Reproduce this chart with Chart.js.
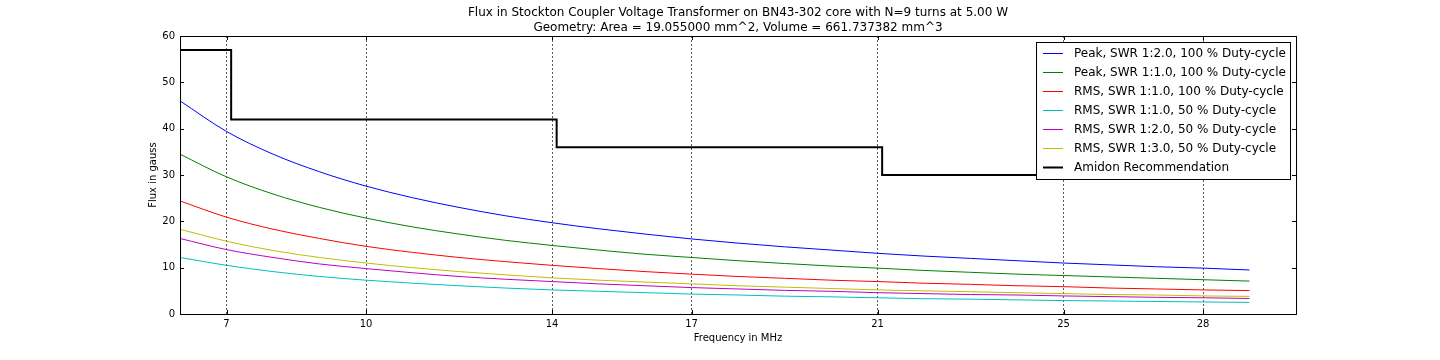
<!DOCTYPE html>
<html>
<head>
<meta charset="utf-8">
<script src="https://cdn.jsdelivr.net/npm/chart.js@4/dist/chart.umd.min.js"></script>
<style>
  html, body { margin: 0; padding: 0; background: #fff; }
  #wrap { width: 1440px; height: 360px; }
</style>
</head>
<body>
<div id="wrap"><canvas id="c" width="1440" height="360"></canvas></div>
<script>
// ---- data ----
const freqMHz      = [6, 7, 8, 9, 10, 11, 12, 13, 14, 15, 16, 17, 18, 19, 20, 21, 22, 23, 24, 25, 26, 27, 28, 29];
const peakSwr2Full = [46.0, 39.4, 34.5, 30.7, 27.6, 25.1, 23.0, 21.2, 19.7, 18.4, 17.25, 16.2, 15.3, 14.5, 13.8, 13.1, 12.5, 12.0, 11.5, 11.0, 10.6, 10.2, 9.9, 9.5];
const peakSwr1Full = [34.5, 29.6, 25.9, 23.0, 20.7, 18.8, 17.25, 15.9, 14.8, 13.8, 12.9, 12.2, 11.5, 10.9, 10.35, 9.9, 9.4, 9.0, 8.6, 8.3, 8.0, 7.7, 7.4, 7.1];
const rmsSwr1Full  = [24.4, 20.9, 18.3, 16.3, 14.6, 13.3, 12.2, 11.3, 10.5, 9.8, 9.15, 8.6, 8.1, 7.7, 7.3, 7.0, 6.65, 6.4, 6.1, 5.9, 5.6, 5.4, 5.2, 5.05];
const rmsSwr1Half  = [12.2, 10.5, 9.15, 8.1, 7.3, 6.65, 6.1, 5.6, 5.2, 4.9, 4.6, 4.3, 4.1, 3.85, 3.7, 3.5, 3.3, 3.2, 3.05, 2.9, 2.8, 2.7, 2.6, 2.5];
const rmsSwr2Half  = [16.3, 13.9, 12.2, 10.8, 9.8, 8.9, 8.1, 7.5, 7.0, 6.5, 6.1, 5.7, 5.4, 5.1, 4.9, 4.6, 4.4, 4.2, 4.1, 3.9, 3.75, 3.6, 3.5, 3.35];
const rmsSwr3Half  = [18.3, 15.7, 13.7, 12.2, 11.0, 10.0, 9.15, 8.45, 7.8, 7.3, 6.9, 6.5, 6.1, 5.8, 5.5, 5.2, 5.0, 4.8, 4.6, 4.4, 4.2, 4.1, 3.9, 3.8];
const amidonFreq   = [6, 7.1, 14.1, 21.1, 29.7];
const amidonFlux   = [57, 42, 36, 30, 30];

const seriesLabels = [
  'Peak, SWR 1:2.0, 100 % Duty-cycle',
  'Peak, SWR 1:1.0, 100 % Duty-cycle',
  'RMS, SWR 1:1.0, 100 % Duty-cycle',
  'RMS, SWR 1:1.0, 50 % Duty-cycle',
  'RMS, SWR 1:2.0, 50 % Duty-cycle',
  'RMS, SWR 1:3.0, 50 % Duty-cycle',
  'Amidon Recommendation'
];
const xTickValues = [7, 10, 14, 17, 21, 25, 28];
const yTickValues = [0, 10, 20, 30, 40, 50, 60];
const titleLines = [
  'Flux in Stockton Coupler Voltage Transformer on BN43-302 core with N=9 turns at 5.00 W',
  'Geometry: Area = 19.055000 mm^2, Volume = 661.737382 mm^3'
];

const FONT = 'DejaVu Sans';
const pts = (xs, ys) => xs.map((x, i) => ({ x: x, y: ys[i] }));

const curve = (label, ys, color) => ({
  label: label,
  data: pts(freqMHz, ys),
  borderColor: color,
  backgroundColor: color,
  borderWidth: 1,
  pointRadius: 0,
  fill: false,
  cubicInterpolationMode: 'monotone'
});

const datasets = [
  curve(seriesLabels[0], peakSwr2Full, '#0000ff'),
  curve(seriesLabels[1], peakSwr1Full, '#008000'),
  curve(seriesLabels[2], rmsSwr1Full, '#ff0000'),
  curve(seriesLabels[3], rmsSwr1Half, '#00bfbf'),
  curve(seriesLabels[4], rmsSwr2Half, '#bf00bf'),
  curve(seriesLabels[5], rmsSwr3Half, '#bfbf00'),
  {
    label: seriesLabels[6],
    data: pts(amidonFreq, amidonFlux),
    borderColor: '#000000',
    backgroundColor: '#000000',
    borderWidth: 2,
    pointRadius: 0,
    fill: false,
    stepped: 'before'
  }
];

// frame, inward ticks and boxed legend inside the plot
const framePlugin = {
  id: 'frame',
  afterDraw(chart) {
    const ctx = chart.ctx;
    const a = chart.chartArea;
    const xs = chart.scales.x, ys = chart.scales.y;
    ctx.save();
    ctx.strokeStyle = '#000';
    ctx.lineWidth = 1;
    // inward ticks
    ctx.beginPath();
    xTickValues.forEach(v => {
      const px = Math.round(xs.getPixelForValue(v)) + 0.5;
      ctx.moveTo(px, a.bottom); ctx.lineTo(px, a.bottom - 4);
      ctx.moveTo(px, a.top); ctx.lineTo(px, a.top + 4);
    });
    yTickValues.forEach(v => {
      const py = Math.round(ys.getPixelForValue(v)) + 0.5;
      ctx.moveTo(a.left, py); ctx.lineTo(a.left + 4, py);
      ctx.moveTo(a.right, py); ctx.lineTo(a.right - 4, py);
    });
    ctx.stroke();
    // frame
    ctx.strokeRect(Math.round(a.left) + 0.5, Math.round(a.top) + 0.5,
                   Math.round(a.right - a.left), Math.round(a.bottom - a.top));

    // legend
    const lx = 1036.5, ly = 42.5, lw = 254, lh = 137;
    ctx.fillStyle = '#fff';
    ctx.fillRect(lx, ly, lw, lh);
    ctx.strokeStyle = '#000';
    ctx.lineWidth = 1;
    ctx.strokeRect(lx, ly, lw, lh);
    ctx.font = '12px "' + FONT + '"';
    ctx.textBaseline = 'middle';
    ctx.textAlign = 'left';
    chart.data.datasets.forEach((ds, i) => {
      const y = 53 + i * 19;
      ctx.strokeStyle = ds.borderColor;
      ctx.lineWidth = ds.borderWidth;
      ctx.beginPath();
      ctx.moveTo(1043, y + 0.5);
      ctx.lineTo(1063, y + 0.5);
      ctx.stroke();
      ctx.fillStyle = '#000';
      ctx.fillText(ds.label, 1074, y + 1);
    });
    ctx.restore();
  }
};

new Chart(document.getElementById('c'), {
  type: 'line',
  data: { datasets: datasets },
  plugins: [framePlugin],
  options: {
    responsive: false,
    animation: false,
    devicePixelRatio: 1,
    layout: { padding: { left: 0, right: 144, top: 0, bottom: 0 } },
    plugins: {
      legend: { display: false },
      tooltip: { enabled: false },
      title: {
        display: true,
        fullSize: false,
        text: titleLines,
        color: '#000',
        font: { family: FONT, size: 12, weight: 'normal', lineHeight: 1.25 },
        padding: { top: 5, bottom: 1 }
      }
    },
    scales: {
      x: {
        type: 'linear',
        min: 6,
        max: 30,
        afterBuildTicks: (s) => { s.ticks = xTickValues.map(v => ({ value: v })); },
        afterFit: (s) => { s.height = 46; },
        ticks: {
          color: '#000',
          font: { family: FONT, size: 10 },
          padding: 4,
          maxRotation: 0,
          autoSkip: false
        },
        grid: {
          display: true,
          drawTicks: false,
          color: 'rgba(0,0,0,0.65)',
          lineWidth: 1
        },
        border: { display: false, dash: [2, 2] },
        title: {
          display: true,
          text: 'Frequency in MHz',
          color: '#000',
          font: { family: FONT, size: 10, lineHeight: 1.2 },
          padding: { top: 0, bottom: 16 }
        }
      },
      y: {
        type: 'linear',
        min: 0,
        max: 60,
        afterBuildTicks: (s) => { s.ticks = yTickValues.map(v => ({ value: v })); },
        afterFit: (s) => { s.width = 180; },
        ticks: {
          color: '#000',
          font: { family: FONT, size: 10 },
          padding: 5
        },
        grid: { display: false, drawTicks: false },
        border: { display: false },
        title: {
          display: true,
          text: 'Flux in gauss',
          color: '#000',
          font: { family: FONT, size: 10, lineHeight: 1.2 },
          padding: { top: 147, bottom: 0 }
        }
      }
    }
  }
});
</script>
</body>
</html>
